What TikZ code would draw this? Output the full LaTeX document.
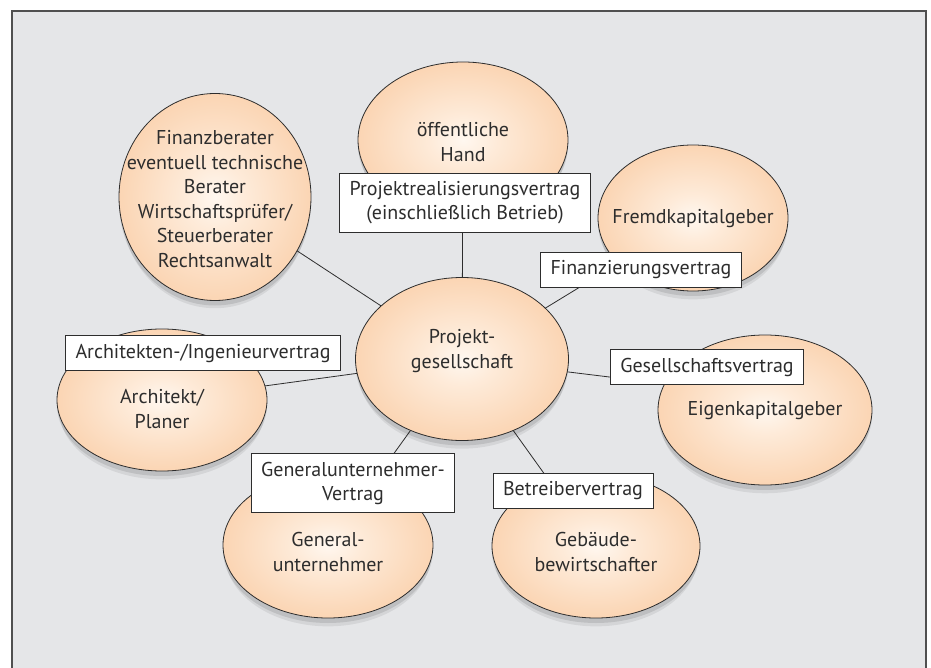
\documentclass[tikz,border=0pt]{standalone}
\usepackage{fontspec}
\setmainfont{PT Sans}
\usetikzlibrary{shapes.geometric,shadows,calc}
\pgfdeclarelayer{bg}
\pgfdeclarelayer{edges}
\pgfsetlayers{bg,edges,main}
\pgfdeclareradialshading{orbshade}{\pgfpoint{0bp}{0bp}}{rgb(0bp)=(1,0.97,0.94); rgb(8bp)=(0.995,0.92,0.85); rgb(50bp)=(0.965,0.71,0.49)}
\definecolor{panelbg}{RGB}{229,230,232}
\definecolor{panelline}{RGB}{80,80,80}
\definecolor{ink}{RGB}{45,45,45}
\begin{document}
\begin{tikzpicture}[x=1pt,y=-1pt,
  orb/.style={ellipse, draw=ink, line width=0.8pt, shading=orbshade, inner sep=0pt,
    drop shadow={shadow xshift=0pt, shadow yshift=-5pt, opacity=0.10, fill=black},
    drop shadow={shadow xshift=0pt, shadow yshift=-10pt, shadow scale=0.98, opacity=0.07, fill=black}},
  orbtext/.style={align=center, inner sep=0pt, font=\fontsize{20}{24.5}\selectfont, text=ink},
  lbl/.style={draw=ink, fill=white, line width=0.8pt, align=center, inner xsep=10pt,
    inner ysep=8pt, font=\fontsize{20}{24}\selectfont, text=ink},
  link/.style={draw=ink, line width=0.8pt}]
\useasboundingbox (0,0) rectangle (931,668);
\begin{pgfonlayer}{bg}
  \filldraw[fill=panelbg, draw=panelline, line width=1.2pt] (12,11) rectangle (926,690);
\end{pgfonlayer}

\node[orb, minimum width=210pt, minimum height=156pt] (pub) at (463,140) {};
\node[orb, minimum width=192pt, minimum height=207pt] (fin) at (215,197) {};
\node[orb, minimum width=190pt, minimum height=146pt] (fremd) at (693,218) {};
\node[orb, minimum width=213pt, minimum height=163pt] (proj) at (462,359) {};
\node[orb, minimum width=210pt, minimum height=142pt] (arch) at (162,400) {};
\node[orb, minimum width=214pt, minimum height=150pt] (eigen) at (765,410) {};
\node[orb, minimum width=210pt, minimum height=146pt] (gen) at (328,545) {};
\node[orb, minimum width=208pt, minimum height=144pt] (geb) at (596,546) {};

\node[orbtext] (pubT) at (463,142) {öffentliche\\Hand};
\node[orbtext] (finT) at (215,199) {Finanzberater\\eventuell technische\\Berater\\Wirtschaftsprüfer/\\Steuerberater\\Rechtsanwalt};
\node[orbtext] (fremdT) at (693,219) {Fremdkapitalgeber};
\node[orbtext] (projT) at (462,351) {Projekt-\\gesellschaft};
\node[orbtext] (archT) at (162,409) {Architekt/\\Planer};
\node[orbtext] (eigenT) at (765,411) {Eigenkapitalgeber};
\node[orbtext] (genT) at (328,552) {General-\\unternehmer};
\node[orbtext] (gebT) at (596,552) {Gebäude-\\bewirtschafter};

\coordinate (eigenIn) at ($(eigen.center)+(0,-14)$);
\begin{pgfonlayer}{edges}
  \draw[link] (proj.center) -- (pub.center);
  \draw[link] (proj.center) -- (fin.center);
  \draw[link] (proj.center) -- (fremd.center);
  \draw[link] (proj.center) -- (arch.center);
  \draw[link] (proj.center) -- (eigenIn);
  \draw[link] (proj.center) -- (gen.center);
  \draw[link] (proj.center) -- (geb.center);
\end{pgfonlayer}

\node[lbl] (l1) at (465,203) {Projektrealisierungsvertrag\\(einschließlich Betrieb)};
\node[lbl] (l2) at (641,270) {Finanzierungsvertrag};
\node[lbl] (l3) at (203,353) {Architekten-/Ingenieurvertrag};
\node[lbl] (l4) at (707,367) {Gesellschaftsvertrag};
\node[lbl] (l5) at (353,483) {Generalunternehmer-\\Vertrag};
\node[lbl] (l6) at (573,491) {Betreibervertrag};
\end{tikzpicture}
\end{document}
